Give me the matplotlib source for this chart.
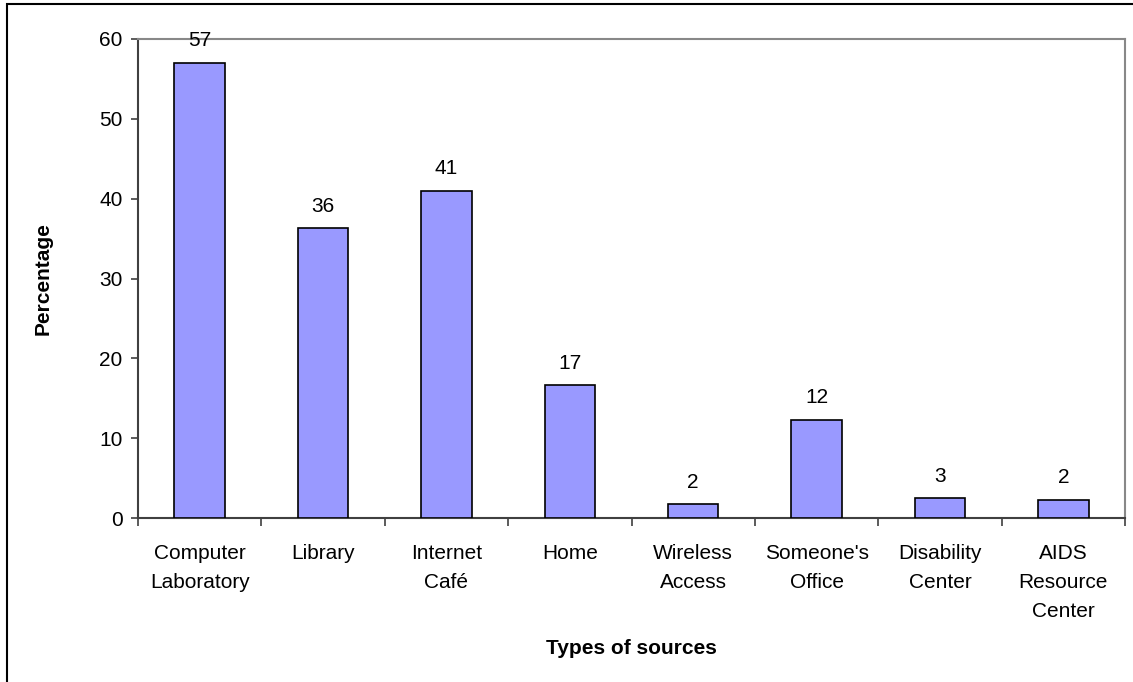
import numpy as np
import matplotlib
matplotlib.use("Agg")
import matplotlib.pyplot as plt
from matplotlib.patches import Rectangle

# DATA
categories = ["Computer\nLaboratory", "Library", "Internet\nCafé", "Home",
              "Wireless\nAccess", "Someone's\nOffice", "Disability\nCenter",
              "AIDS\nResource\nCenter"]
percentages = [57.0, 36.3, 41.0, 16.6, 1.7, 12.3, 2.5, 2.3]
bar_labels = ["57", "36", "41", "17", "2", "12", "3", "2"]
y_ticks = [0, 10, 20, 30, 40, 50, 60]

plt.rcParams['font.family'] = ['Liberation Sans', 'DejaVu Sans']
FS = 15

W, H = 1133, 682
fig = plt.figure(figsize=(W / 100, H / 100), dpi=100)
ax = fig.add_axes([138 / W, 1 - 518 / H, (1125 - 138) / W, (518 - 39) / H])

x = np.arange(len(categories))
bars = ax.bar(x, percentages, width=0.41, color="#9999FF",
              edgecolor="black", linewidth=1.2, zorder=3)

for b, lab in zip(bars, bar_labels):
    ax.annotate(lab, (b.get_x() + b.get_width() / 2, b.get_height()),
                xytext=(0, 9), textcoords="offset points",
                ha="center", va="bottom", fontsize=FS)

ax.set_xlim(-0.5, len(categories) - 0.5)
ax.set_ylim(0, 60)
ax.set_yticks(y_ticks)
ax.tick_params(axis="y", labelsize=FS, length=5, width=1.2,
               color="#404040", pad=6)

# boundary ticks with labels at the category centres
ax.set_xticks(np.arange(len(categories) + 1) - 0.5)
ax.set_xticklabels([])
ax.set_xticks(x, minor=True)
ax.set_xticklabels(categories, minor=True, fontsize=FS, linespacing=1.65)
ax.tick_params(axis="x", which="major", length=6, width=1.2, color="#404040")
ax.tick_params(axis="x", which="minor", length=0, pad=19)

for s in ["left", "bottom"]:
    ax.spines[s].set_color("#404040")
    ax.spines[s].set_linewidth(1.5)
for s in ["top", "right"]:
    ax.spines[s].set_color("#888888")
    ax.spines[s].set_linewidth(1.5)

ax.set_ylabel("Percentage", fontsize=FS, fontweight="bold", labelpad=34)
fig.text((138 + 1125) / 2 / W, 1 - 648 / H, "Types of sources",
         fontsize=FS, fontweight="bold", ha="center", va="center")

# outer chart border (runs off the right and bottom edge)
fig.patches.append(Rectangle((7 / W, -0.1), 1.2, (H - 4) / H + 0.1,
                             transform=fig.transFigure, fill=False,
                             edgecolor="black", linewidth=1.5))

fig.savefig("out.png", dpi=100)
